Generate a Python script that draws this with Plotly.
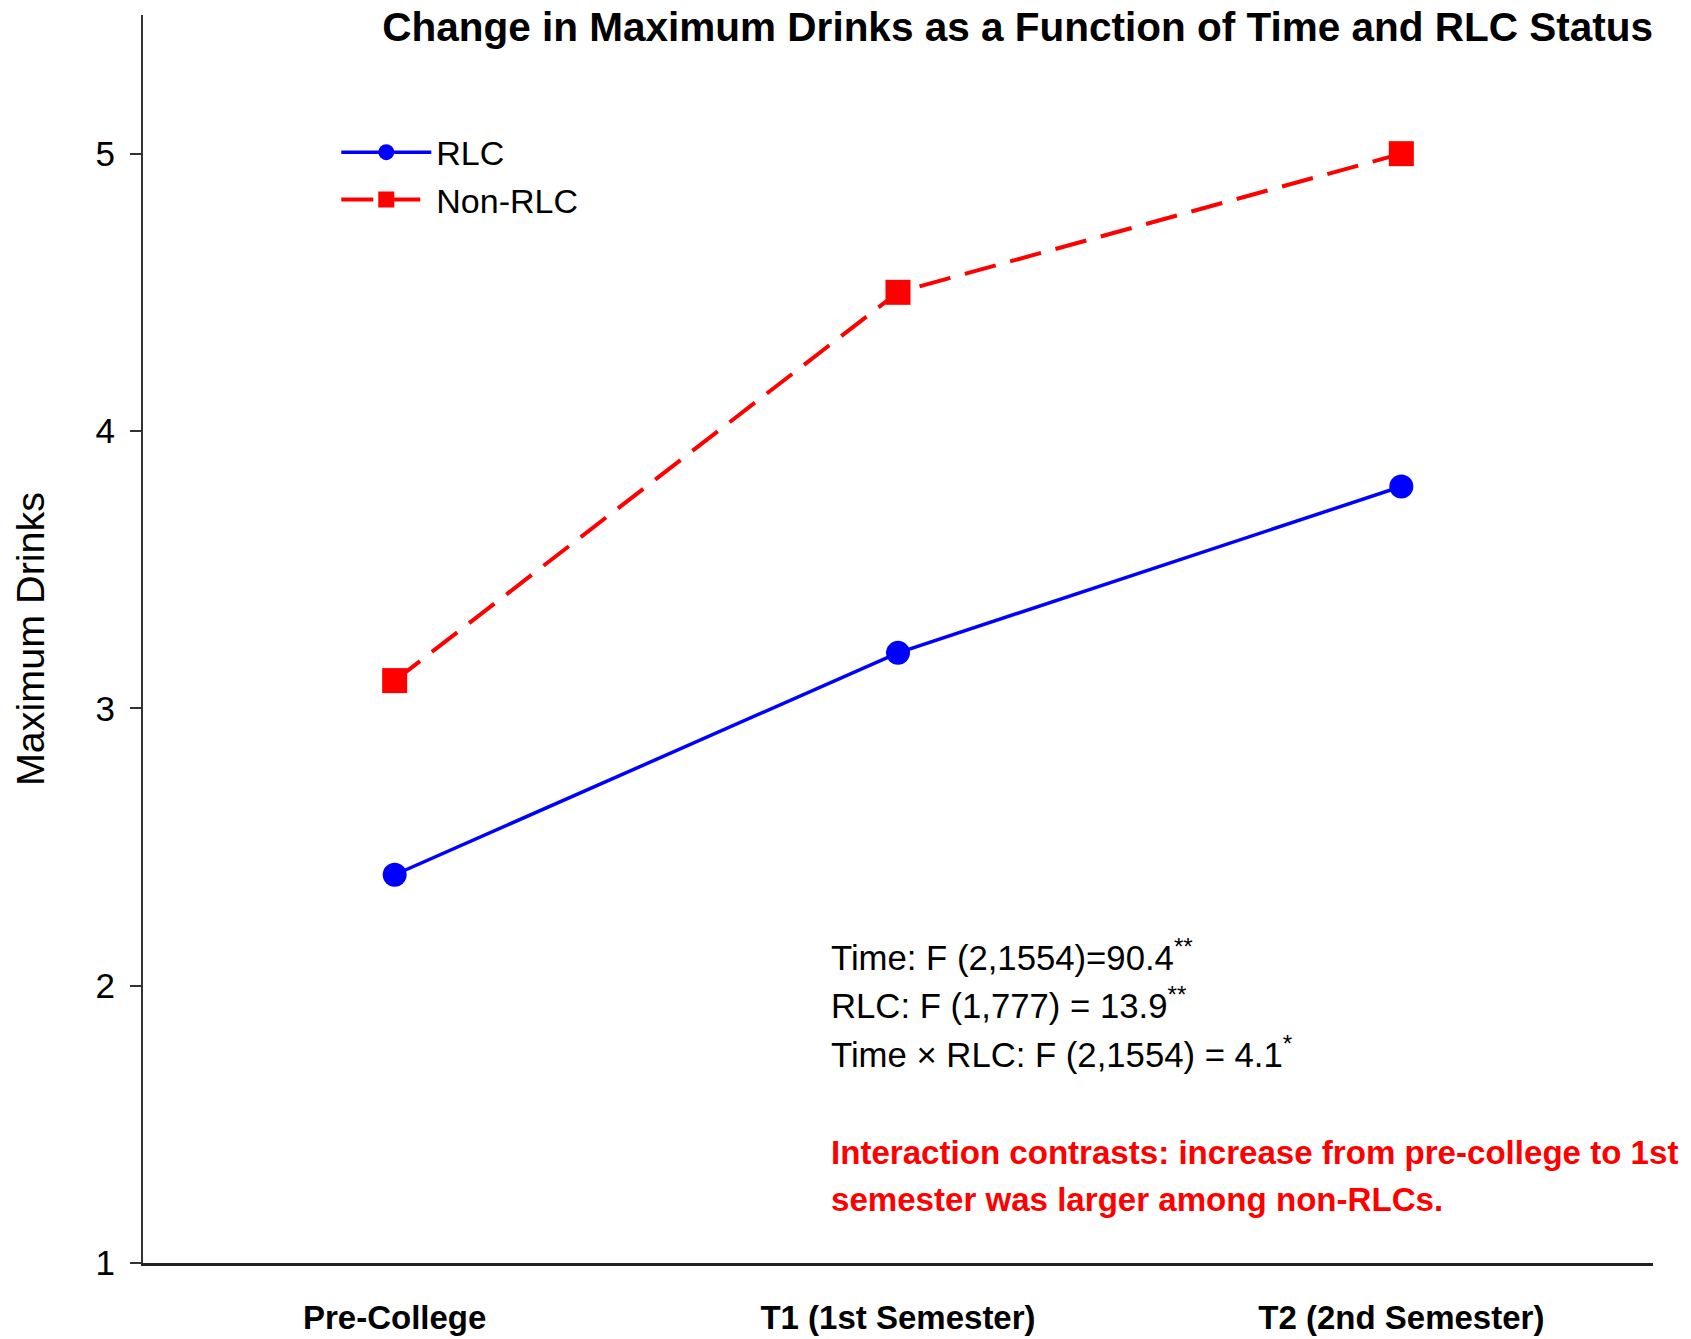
import plotly.graph_objects as go

# ---- data ----
categories = ["Pre-College", "T1 (1st Semester)", "T2 (2nd Semester)"]
rlc_values = [2.4, 3.2, 3.8]
non_rlc_values = [3.1, 4.5, 5.0]
y_ticks = [1, 2, 3, 4, 5]

title_text = "Change in Maximum Drinks as a Function of Time and RLC Status"
y_title = "Maximum Drinks"
stats_lines = [
    "Time: F (2,1554)=90.4<sup>**</sup>",
    "RLC: F (1,777) = 13.9<sup>**</sup>",
    "Time × RLC: F (2,1554) = 4.1<sup>*</sup>",
]
stats_y = [2.112, 1.937, 1.76]
note_lines = [
    "Interaction contrasts: increase from pre-college to 1st",
    "semester was larger among non-RLCs.",
]
note_y = [1.40, 1.23]

FONT = "Liberation Sans, Arial, Helvetica, sans-serif"

fig = go.Figure()
fig.add_trace(go.Scatter(
    x=categories, y=rlc_values, name="RLC", mode="lines+markers",
    line=dict(color="#0000FF", width=3.5),
    marker=dict(symbol="circle", size=24, color="#0000FF"),
    legendgroup="a",
))
fig.add_trace(go.Scatter(
    x=categories, y=non_rlc_values, name="Non-RLC", mode="lines+markers",
    line=dict(color="#FF0000", width=4, dash="32px,15px"),
    marker=dict(symbol="square", size=25, color="#FF0000"),
    legendgroup="b",
))

annotations = []
for txt, yy in zip(stats_lines, stats_y):
    annotations.append(dict(
        text=txt, xref="paper", yref="y", x=0.454, y=yy,
        xanchor="left", yanchor="middle", showarrow=False,
        font=dict(family=FONT, size=34.7, color="black"),
    ))
for txt, yy in zip(note_lines, note_y):
    annotations.append(dict(
        text=txt, xref="paper", yref="y", x=0.454, y=yy,
        xanchor="left", yanchor="middle", showarrow=False,
        font=dict(family=FONT, size=33.1, color="#FF0000", weight="bold"),
    ))

W, H = 1683, 1331
fig.update_layout(
    width=W, height=H,
    paper_bgcolor="white", plot_bgcolor="white",
    margin=dict(l=135, r=38, t=7, b=76, autoexpand=False),
    font=dict(family=FONT, color="black"),
    title=dict(
        text=title_text, xref="paper", x=1, xanchor="right",
        yref="container", y=1 - 18.5 / H, yanchor="middle",
        font=dict(family=FONT, size=40.5, color="black", weight="bold"),
    ),
    showlegend=True,
    legend=dict(
        x=0.128, y=0.913, xanchor="left", yanchor="top",
        font=dict(family=FONT, size=34, color="black"),
        bgcolor="rgba(0,0,0,0)", itemwidth=90, tracegroupgap=0,
    ),
    annotations=annotations,
    xaxis=dict(
        type="category", range=[-0.5, 2.5], showgrid=False, zeroline=False,
        showline=True, linecolor="#222222", linewidth=3,
        ticks="", ticklabelstandoff=23,
        tickfont=dict(family=FONT, size=33, color="black", weight="bold"),
        automargin=False,
    ),
    yaxis=dict(
        range=[1, 5.5], tickvals=y_ticks, showgrid=False, zeroline=False,
        showline=True, linecolor="#333333", linewidth=2,
        ticks="outside", ticklen=11, tickwidth=2, tickcolor="#333333",
        ticklabelstandoff=8,
        tickfont=dict(family=FONT, size=35, color="black"),
        title=dict(text=y_title, standoff=49,
                   font=dict(family=FONT, size=39.5, color="black")),
        automargin=False,
    ),
)

fig.write_html("out.html")
